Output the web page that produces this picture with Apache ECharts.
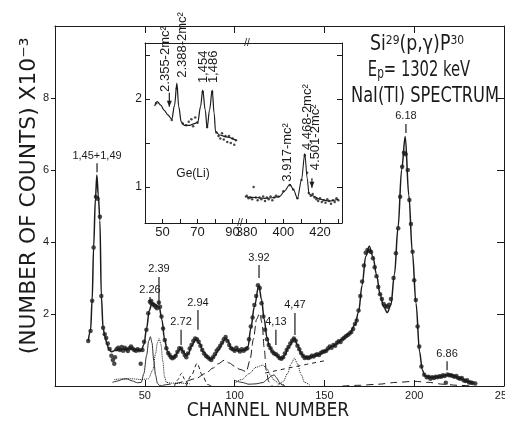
<!DOCTYPE html>
<html><head><meta charset="utf-8">
<script src="https://cdn.jsdelivr.net/npm/echarts@6/dist/echarts.min.js"></script>
<style>html,body{margin:0;padding:0;background:#fff}#c{width:505px;height:423px}</style>
</head><body><div id="c"></div>
<script>
// ---------------- DATA ----------------
// NaI(Tl) spectrum: measured points [channel, counts x10^-3]
const naiPoints = [[18.5,1.25],[19.8,1.53],[20.7,2.37],[21.5,3.85],[22.8,5.26],[23.7,5.2],[25.0,4.7],[25.8,2.5],[26.8,1.62],[27.7,1.44],[28.5,1.33],[29.4,1.18],[30.4,1.03],
[31.4,0.84],[32.2,0.72],[33.0,0.62],[33.4,0.8],[34.3,1.02],[35.2,1.06],[36.2,1.0],[37.1,1.08],[38.0,0.98],[38.8,1.06],[39.7,1.02],[40.6,0.97],[41.5,1.05],[42.3,1.1],[43.2,1.04],[44.1,1.0],[45.1,0.98],[46.0,1.02],[46.9,0.99],[47.7,0.62],[48.7,1.0],[49.6,1.23],[50.9,1.56],[51.9,2.02],[52.8,2.34],[53.6,2.36],[54.4,2.28],[55.2,2.24],[56.0,2.2],[56.8,2.16],[57.8,2.32],[58.5,2.2],[59.3,1.93],[60.2,1.6],[61.1,1.28],[62.0,1.05],[63.0,0.92],[63.8,0.86],[64.6,0.8],[65.4,0.77],[66.3,0.8],[67.2,0.84],[68.2,0.95],[69.2,1.05],[70.2,1.04],[71.2,0.95],[72.2,0.86],[73.1,0.8],[74.0,0.9],[75.0,1.04],[76.0,1.14],[77.0,1.25],[78.0,1.32],[79.0,1.3],[80.0,1.23],[81.0,1.12],[82.0,1.0],[83.0,0.9],[84.0,0.84],[85.0,0.8],[86.0,0.76],[87.0,0.72],[88.0,0.8],[89.0,0.88],[90.0,0.98],[91.0,1.04],[92.0,1.12],[93.0,1.2],[94.0,1.3],[95.0,1.36],[96.0,1.25],[97.0,1.14],[98.0,1.05],[99.0,1.02],[100.0,0.98],[101.0,1.06],[102.0,1.0],[103.0,0.96],[104.0,1.02],[105.0,0.98],[106.0,1.02],[107.0,1.05],[108.0,1.3],[109.0,1.65],[110.0,1.9],[111.0,2.25],[112.0,2.5],[113.0,2.8],[114.0,2.72],[115.0,2.3],[116.0,1.93],[117.0,1.56],[118.0,1.3],[119.0,1.14],[120.0,1.05],[121.0,0.96],[122.0,0.9],[123.0,0.88],[124.0,0.84],[125.0,0.78],[126.0,0.76],[127.0,0.8],[128.0,0.9],[129.0,1.0],[130.0,1.08],[131.0,1.18],[132.0,1.26],[133.0,1.32],[134.0,1.26],[135.0,1.12],[136.0,1.02],[137.0,0.92],[138.0,0.84],[139.0,0.78],[140.0,0.8],[141.0,0.78],[142.0,0.8],[143.0,0.84],[144.0,0.82],[145.0,0.86],[146.0,0.88],[147.0,0.86],[148.0,0.92],[149.0,0.95],[150.0,0.96],[151.0,0.98],[152.0,1.04],[153.0,1.1],[154.0,1.06],[155.0,1.14],[156.0,1.12],[157.0,1.2],[158.0,1.24],[159.0,1.22],[160.0,1.3],[161.0,1.34],[162.0,1.38],[163.0,1.42],[164.0,1.46],[165.0,1.5],[166.0,1.58],[167.0,1.72],[168.0,1.82],[169.0,2.1],[170.0,2.5],[171.0,2.9],[172.0,3.35],[173.0,3.7],[174.0,3.78],[175.0,3.75],[176.0,3.72],[177.0,3.55],[178.0,3.3],[179.0,3.05],[180.0,2.75],[181.0,2.55],[182.0,2.42],[183.0,2.28],[184.0,2.22],[185.0,2.2],[186.0,2.26],[187.0,2.42],[188.5,3.0],[189.8,3.69],[191.1,4.38],[192.2,5.26],[193.3,6.09],[194.3,6.48],[195.2,6.44],[196.4,6.0],[197.3,5.17],[198.2,4.5],[199.1,3.73],[200.0,2.94],[200.9,2.39],[201.9,1.65],[202.8,1.1],[204.0,0.54],[205.6,0.31],[207.0,0.24],[208.0,0.26],[209.0,0.2],[210.0,0.24],[211.0,0.22],[212.0,0.26],[213.0,0.24],[214.0,0.27],[215.0,0.26],[216.0,0.3],[217.0,0.28],[217.6,0.09],[218.5,0.32],[219.5,0.3],[220.5,0.3],[221.5,0.28],[222.5,0.26],[223.5,0.28],[224.5,0.22],[225.5,0.2],[226.5,0.22],[227.5,0.16],[228.5,0.14],[229.5,0.16],[230.5,0.1],[231.5,0.1],[232.5,0.08],[234.0,0.07]];

// fitted total curve
const naiFit = [[18.5,1.25],[19.8,1.55],[20.7,2.4],[21.5,3.85],[22.5,5.2],[23.3,5.86],[24.1,5.3],[25,4.6],[25.8,2.5],[26.8,1.6],[27.8,1.38],[28.8,1.2],[30,1.02],[31.5,0.95],[34,1.0],[38,1.02],[42,1.04],[46,1.0],[48,0.98],[49.5,1.15],[51,1.6],[52.5,2.1],[54,2.3],[56,2.26],[58,2.2],[59.5,1.85],[61,1.3],[62.5,0.98],[64,0.84],[65.5,0.8],[67,0.84],[68.5,0.96],[70,1.04],[71.5,0.95],[73,0.84],[74.5,0.92],[76,1.12],[78.5,1.3],[80.5,1.18],[82.5,0.96],[85,0.8],[87,0.74],[89,0.84],[91,1.0],[93,1.18],[95,1.33],[96.5,1.24],[98,1.06],[100,1.0],[103,0.98],[106,1.0],[107.5,1.1],[109,1.6],[111,2.2],[113.5,2.8],[115,2.4],[116.5,1.85],[118,1.35],[119.5,1.08],[121,0.95],[123,0.86],[125,0.78],[126.5,0.76],[128,0.86],[130,1.08],[133.3,1.32],[135,1.14],[137,0.92],[139,0.8],[142,0.8],[146,0.86],[150,0.96],[155,1.12],[160,1.3],[164,1.46],[167,1.7],[169,2.05],[171,2.8],[173,3.6],[175,3.88],[177,3.6],[179,3.1],[181,2.55],[183,2.2],[185,2.04],[187,2.25],[189,3.1],[191,4.4],[193,6.0],[195,6.93],[197,5.3],[199,3.7],[201,2.3],[203,0.95],[204.5,0.45],[206,0.28],[210,0.24],[215,0.26],[220,0.32],[225,0.22],[230,0.12],[233,0.08]];

// fitted components
const compSolidA = [[32,0.1],[35,0.14],[38,0.19],[40,0.2],[43,0.14],[46,0.09],[48,0.1],[49.5,0.35],[51,0.85],[52.2,1.25],[53.1,1.37],[54,1.2],[55,0.7],[56,0.3],[57,0.08],[58,0.02],[60,0]];
const compSolidB = [[100,0.16],[104,0.1],[108,0.05],[112,0.06],[116,0.1],[118.5,0.2],[120.5,0.28],[122,0.31],[123.5,0.22],[125,0.1],[126.5,0.03],[128,0]];
const compDotA = [[33,0.18],[38,0.2],[43,0.2],[48,0.18],[52,0.2],[54.5,0.45],[56,0.9],[57,1.2],[58,1.32],[59,1.15],[60,0.7],[61,0.25],[62,0.1],[65,0.08],[70,0.08],[75,0.06]];
const compDotB = [[100,0.08],[104,0.18],[108,0.34],[112,0.52],[115.7,0.58],[118,0.48],[120,0.3],[122,0.16],[125,0.06],[128,0.02]];
const compDotC = [[124,0.02],[127,0.12],[129.5,0.35],[131.5,0.62],[133.3,0.77],[135,0.62],[137,0.32],[139,0.1],[142,0.02]];
const compDashA = [[66.5,0],[68.5,0.18],[70.4,0.35],[72.3,0.18],[74.2,0]];
const compDashB = [[73,0],[76,0.3],[79.1,0.63],[82,0.3],[85,0.04],[87,0]];
const compLongDash = [[60,0.02],[66,0.06],[72,0.12],[78,0.2],[84,0.35],[88,0.5],[91,0.62],[94.4,0.72],[97,0.64],[100,0.55],[103,0.46],[106.5,0.4],[108.5,0.7],[110.5,1.3],[112.2,1.85],[113.9,2.02],[115.3,1.75],[116.5,1.05],[117.6,0.44],[119,0.12],[121,0]];
const compContinuum = [[117,0.36],[130,0.5],[140,0.6],[150,0.7]];
const compLongDashB = [[160,0],[170,0.02],[180,0.05],[190,0.1],[200,0.13],[208,0.1],[216,0.05],[224,0.02],[232,0]];

// peak annotations (main): channel, tick bottom, tick top, text
const peakChannel = [23.4, 52.9, 57.9, 70.2, 79.6, 113.6, 123, 133.6, 195.4, 218.3];
const peakTickLow = [5.94, 2.25, 2.25, 1.14, 1.56, 3.0, 1.14, 1.42, 7.03, 0.44];
const peakTickHigh = [6.19, 2.47, 3.03, 1.56, 2.11, 3.36, 1.56, 2.03, 7.28, 0.69];
const peakText = ['1,45+1,49', '2.26', '2.39', '2.72', '2.94', '3.92', '4,13', '4,47', '6.18', '6.86'];

// Ge(Li) inset, left segment (channels 40-96)
const geLeftFit = [[45.5,1.92],[47,1.97],[49,1.93],[51,1.87],[53,1.82],[55.3,1.77],[56.9,1.93],[58.2,2.18],[59.3,1.91],[60.7,1.74],[62.6,1.7],[65.4,1.7],[68.3,1.72],[70.2,1.74],[71.7,1.91],[73,2.1],[74.4,1.875],[75.5,1.67],[76.9,1.875],[78.4,2.1],[79.5,1.84],[80.3,1.63],[82.6,1.59],[86.4,1.57],[92,1.53]];
const geLeftPoints = [[46.4,1.95],[55.3,1.76],[58.2,2.12],[61.5,1.72],[63.5,1.7],[65,1.74],[66.5,1.77],[67.5,1.69],[68.7,1.79],[70,1.73],[73,2.08],[75.5,1.68],[78.4,2.08],[80.8,1.62],[82,1.58],[83,1.55],[84,1.61],[85,1.54],[86,1.58],[87,1.51],[88,1.58],[89,1.5],[90,1.55],[91,1.48],[92,1.53]];
// Ge(Li) inset, right segment (channels 378-432)
const geRightFit = [[379,0.89],[385,0.88],[390,0.87],[395,0.88],[398,0.89],[400.5,0.95],[403.6,1.03],[405.5,0.97],[407.7,0.87],[409.9,1.08],[411.7,1.38],[413,1.1],[414,0.92],[416,0.9],[420,0.86],[425,0.84],[430,0.86]];
const geRightPoints = [[380,0.9],[381,0.87],[382,0.88],[383,0.86],[383.8,1.0],[385,0.88],[386,0.85],[387,0.88],[388,0.86],[389,0.89],[390,0.84],[391,0.88],[392,0.86],[393,0.89],[394,0.85],[395,0.88],[396,0.9],[397.3,0.89],[400,0.95],[403.6,1.02],[405.4,0.97],[407.7,0.87],[409.9,1.08],[411.7,1.36],[413,1.16],[413.9,0.93],[415,0.9],[416,0.92],[417,0.88],[418,0.86],[419,0.84],[420,0.87],[421,0.83],[422,0.85],[423,0.82],[424,0.86],[425,0.84],[426,0.81],[427,0.85],[428,0.83],[429,0.87],[430,0.85]];
// inset labels: channel, bottom of text (y value), text
const geLeftLabelX = [51.4, 61.1, 73.1, 78.9];
const geLeftLabelY = [2.08, 2.24, 2.18, 2.18];
const geLeftLabelText = ['2.355-2mc²', '2.388-2mc²', '1,454', '1,486'];
const geRightLabelX = [402.5, 412.9, 417.3];
const geRightLabelY = [1.06, 1.42, 1.19];
const geRightLabelText = ['3.917-mc²', '4.468-2mc²', '4.501-2mc²'];
// arrows: channel, top, bottom
const geLeftArrow = [[53.9, 2.07, 1.91]];
const geRightArrow = [[415.6, 1.10, 0.99]];

// axis tick values
const mainXTicks = [50, 100, 150, 200, 250];
const mainYTicks = [2, 4, 6, 8];
const insetYTicks = [1, 1.5, 2, 2.5];
const insetYLabels = [1, 2];
const insetLeftXTicks = [50, 60, 70, 80, 90];
const insetLeftXLabels = [50, 70, 90];
const insetRightXTicks = [380, 390, 400, 410, 420, 430];
const insetRightXLabels = [380, 400, 420];

// ---------------- CHART ----------------
const INK = '#1b1b1b';
const FONT = "'Liberation Sans', Arial, sans-serif";
const NARROW = "'DejaVu Sans Condensed','Liberation Sans',sans-serif";

const chart = echarts.init(document.getElementById('c'), null, {renderer: 'canvas'});

const lineOf = (data, xi, yi, type, width, smooth) => ({
  type: 'line', xAxisIndex: xi, yAxisIndex: yi, data: data, symbol: 'none', showSymbol: false,
  smooth: smooth == null ? 0.3 : smooth, smoothMonotone: 'x', silent: true, z: 3, animation: false,
  lineStyle: {color: INK, width: width, type: type}
});
const dotsOf = (data, xi, yi, size) => ({
  type: 'scatter', xAxisIndex: xi, yAxisIndex: yi, data: data, symbol: 'circle', symbolSize: size,
  itemStyle: {color: INK}, silent: true, z: 4, animation: false
});
const axisLineStyle = {show: true, onZero: false, lineStyle: {color: INK, width: 1}};

function insetLabelSeries(xi, yi, xs, ys, texts, arrows) {
  return {
    type: 'custom', xAxisIndex: xi, yAxisIndex: yi, silent: true, clip: false, z: 10, animation: false,
    data: xs.map((x, i) => [x, ys[i]]),
    renderItem: function (params, api) {
      const i = params.dataIndex;
      const p = api.coord([api.value(0), api.value(1)]);
      const children = [{
        type: 'text', x: p[0], y: p[1], rotation: Math.PI / 2,
        style: {text: texts[i], fill: INK, fontSize: 13, fontFamily: FONT, align: 'left', verticalAlign: 'middle'}
      }];
      if (i === 0) {
        arrows.forEach(a => {
          const t = api.coord([a[0], a[1]]), b = api.coord([a[0], a[2]]);
          children.push({type: 'line', shape: {x1: t[0], y1: t[1], x2: b[0], y2: b[1]}, style: {stroke: INK, lineWidth: 1.2}});
          children.push({type: 'polygon', shape: {points: [[b[0] - 2.5, b[1] - 6], [b[0] + 2.5, b[1] - 6], [b[0], b[1]]]}, style: {fill: INK}});
        });
      }
      return {type: 'group', children: children};
    }
  };
}

const option = {
  animation: false,
  backgroundColor: '#fff',
  grid: [
    {left: 55, top: 26, width: 449, height: 360, containLabel: false, outerBoundsMode: 'none'},
    {left: 145, top: 43, width: 98, height: 180, containLabel: false, outerBoundsMode: 'none'},
    {left: 243, top: 43, width: 99, height: 180, containLabel: false, outerBoundsMode: 'none'}
  ],
  xAxis: [
    {gridIndex: 0, type: 'value', min: 0, max: 250, interval: 50, position: 'bottom',
      axisLine: axisLineStyle, splitLine: {show: false},
      axisTick: {inside: true, length: 6, lineStyle: {color: INK}, customValues: mainXTicks},
      axisLabel: {customValues: mainXTicks, color: INK, fontSize: 11, fontFamily: FONT, margin: 4, alignMaxLabel: 'center', hideOverlap: false},
      name: 'CHANNEL NUMBER', nameLocation: 'middle', nameGap: 16, nameMoveOverlap: false,
      nameTextStyle: {color: INK, fontSize: 19, fontFamily: NARROW, padding: [0, 23, 0, 0]}},
    {gridIndex: 0, type: 'value', min: 0, max: 250, interval: 50, position: 'top',
      axisLine: axisLineStyle, splitLine: {show: false},
      axisTick: {inside: true, length: 7, lineStyle: {color: INK}}, axisLabel: {show: false}},
    {gridIndex: 1, type: 'value', min: 40, max: 96, position: 'bottom',
      axisLine: axisLineStyle, splitLine: {show: false},
      axisTick: {inside: true, length: 4, customValues: insetLeftXTicks, lineStyle: {color: INK}},
      axisLabel: {customValues: insetLeftXLabels, color: INK, fontSize: 13, fontFamily: FONT, margin: 3}},
    {gridIndex: 1, type: 'value', min: 40, max: 96, position: 'top',
      axisLine: axisLineStyle, splitLine: {show: false}, axisTick: {show: false}, axisLabel: {show: false}},
    {gridIndex: 2, type: 'value', min: 378, max: 432, position: 'bottom',
      axisLine: axisLineStyle, splitLine: {show: false},
      axisTick: {inside: true, length: 4, customValues: insetRightXTicks, lineStyle: {color: INK}},
      axisLabel: {customValues: insetRightXLabels, color: INK, fontSize: 13, fontFamily: FONT, margin: 3}},
    {gridIndex: 2, type: 'value', min: 378, max: 432, position: 'top',
      axisLine: axisLineStyle, splitLine: {show: false}, axisTick: {show: false}, axisLabel: {show: false}}
  ],
  yAxis: [
    {gridIndex: 0, type: 'value', min: 0, max: 10, interval: 2, position: 'left',
      axisLine: axisLineStyle, splitLine: {show: false},
      axisTick: {inside: false, length: 4, customValues: mainYTicks, lineStyle: {color: INK}},
      axisLabel: {customValues: mainYTicks, color: INK, fontSize: 11, fontFamily: FONT, margin: 6}},
    {gridIndex: 0, type: 'value', min: 0, max: 10, interval: 2, position: 'right',
      axisLine: axisLineStyle, splitLine: {show: false},
      axisTick: {inside: true, length: 7, customValues: mainYTicks, lineStyle: {color: INK}}, axisLabel: {show: false}},
    {gridIndex: 1, type: 'value', min: 0.59, max: 2.636, position: 'left',
      axisLine: axisLineStyle, splitLine: {show: false},
      axisTick: {inside: true, length: 5, customValues: insetYTicks, lineStyle: {color: INK}},
      axisLabel: {customValues: insetYLabels, color: INK, fontSize: 12, fontFamily: FONT, margin: 3}},
    {gridIndex: 2, type: 'value', min: 0.59, max: 2.636, position: 'right',
      axisLine: axisLineStyle, splitLine: {show: false},
      axisTick: {inside: true, length: 5, customValues: insetYTicks, lineStyle: {color: INK}}, axisLabel: {show: false}}
  ],
  series: [
    lineOf(compSolidA, 0, 0, 'solid', 0.9),
    lineOf(compSolidB, 0, 0, 'solid', 0.9),
    lineOf(compDotA, 0, 0, 'dotted', 1),
    lineOf(compDotB, 0, 0, 'dotted', 1),
    lineOf(compDotC, 0, 0, 'dotted', 1),
    lineOf(compDashA, 0, 0, [3, 3], 1),
    lineOf(compDashB, 0, 0, [4, 3], 1),
    lineOf(compLongDash, 0, 0, [8, 4], 1),
    lineOf(compContinuum, 0, 0, [4, 4], 1, 0),
    lineOf(compLongDashB, 0, 0, [7, 5], 1),
    lineOf(naiFit, 0, 0, 'solid', 1.5, 0.35),
    dotsOf(naiPoints, 0, 0, 4.5),
    {
      type: 'custom', xAxisIndex: 0, yAxisIndex: 0, silent: true, clip: false, z: 10, animation: false,
      data: peakChannel.map((c, i) => [c, peakTickLow[i], peakTickHigh[i]]),
      renderItem: function (params, api) {
        const i = params.dataIndex;
        const lo = api.coord([api.value(0), api.value(1)]);
        const hi = api.coord([api.value(0), api.value(2)]);
        return {type: 'group', children: [
          {type: 'line', shape: {x1: lo[0], y1: lo[1], x2: hi[0], y2: hi[1]}, style: {stroke: INK, lineWidth: 1.2}},
          {type: 'text', x: hi[0], y: hi[1] - 2, style: {text: peakText[i], fill: INK, fontSize: 11, fontFamily: FONT, align: 'center', verticalAlign: 'bottom'}}
        ]};
      }
    },
    lineOf(geLeftFit, 2, 2, 'solid', 1.2, 0.35),
    dotsOf(geLeftPoints, 2, 2, 2.5),
    lineOf(geRightFit, 4, 3, 'solid', 1.1, 0.3),
    dotsOf(geRightPoints, 4, 3, 2.5),
    insetLabelSeries(2, 2, geLeftLabelX, geLeftLabelY, geLeftLabelText, geLeftArrow),
    insetLabelSeries(4, 3, geRightLabelX, geRightLabelY, geRightLabelText, geRightArrow)
  ],
  graphic: [
    {type: 'text', x: 29, y: 196, rotation: Math.PI / 2, scaleX: 1.1, silent: true,
      style: {text: '(NUMBER OF COUNTS) X10⁻³', fill: INK, fontSize: 22, fontFamily: NARROW, align: 'center', verticalAlign: 'middle'}},
    {type: 'text', x: 193, y: 174, silent: true,
      style: {text: 'Ge(Li)', fill: INK, fontSize: 12, fontFamily: FONT, align: 'center', verticalAlign: 'middle'}},
    {type: 'text', x: 417, y: 45, silent: true, scaleX: 0.92,
      style: {text: '{a|Si}{b|29}{a|(p,γ)P}{b|30}', align: 'center', verticalAlign: 'middle',
        rich: {a: {fill: INK, fontSize: 21, fontFamily: NARROW, lineHeight: 22},
               b: {fill: INK, fontSize: 13, fontFamily: NARROW, verticalAlign: 'top', lineHeight: 13}}}},
    {type: 'text', x: 419, y: 71, silent: true, scaleX: 0.78,
      style: {text: '{a|E}{b|p}{a|= 1302 keV}', align: 'center', verticalAlign: 'middle',
        rich: {a: {fill: INK, fontSize: 21, fontFamily: NARROW, lineHeight: 22},
               b: {fill: INK, fontSize: 15, fontFamily: NARROW, verticalAlign: 'bottom', lineHeight: 15}}}},
    {type: 'text', x: 425, y: 97, silent: true, scaleX: 0.86,
      style: {text: 'NaI(Tl) SPECTRUM', fill: INK, fontSize: 21, fontFamily: NARROW, align: 'center', verticalAlign: 'middle'}},
    {type: 'text', x: 240, y: 223, silent: true,
      style: {text: '//', fill: INK, fontSize: 10, fontFamily: FONT, align: 'center', verticalAlign: 'middle'}},
    {type: 'text', x: 247, y: 43, silent: true,
      style: {text: '//', fill: INK, fontSize: 10, fontFamily: FONT, align: 'center', verticalAlign: 'middle'}}
  ]
};
chart.setOption(option);
</script>
</body></html>
